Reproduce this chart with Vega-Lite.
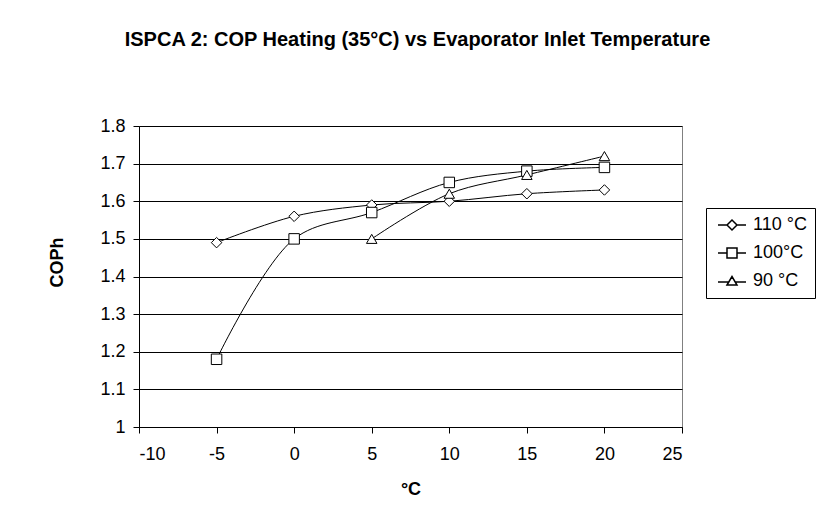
{
  "$schema": "https://vega.github.io/schema/vega-lite/v6.json",
  "width": 543,
  "height": 301,
  "autosize": {"type": "none"},
  "padding": {"left": 139, "top": 126, "right": 144, "bottom": 93},
  "background": "white",
  "title": {
    "text": "ISPCA 2: COP Heating (35°C) vs  Evaporator Inlet Temperature",
    "font": "Liberation Sans",
    "fontSize": 20,
    "fontWeight": "bold",
    "color": "black",
    "anchor": "middle",
    "frame": "group",
    "dx": 7,
    "offset": 67
  },
  "config": {
    "font": "Liberation Sans",
    "view": {"stroke": "#808080", "strokeWidth": 1},
    "axis": {
      "labelFont": "Liberation Sans",
      "labelFontSize": 18,
      "labelColor": "black",
      "titleFont": "Liberation Sans",
      "titleFontSize": 18,
      "titleFontWeight": "bold",
      "titleColor": "black",
      "domainColor": "black",
      "tickColor": "black",
      "gridColor": "black",
      "gridOpacity": 1
    }
  },
  "data": {
    "values": [
      {"series": "110 °C", "t": -5, "cop": 1.49},
      {"series": "110 °C", "t": 0, "cop": 1.56},
      {"series": "110 °C", "t": 5, "cop": 1.59},
      {"series": "110 °C", "t": 10, "cop": 1.60},
      {"series": "110 °C", "t": 15, "cop": 1.62},
      {"series": "110 °C", "t": 20, "cop": 1.63},
      {"series": "100°C", "t": -5, "cop": 1.18},
      {"series": "100°C", "t": 0, "cop": 1.50},
      {"series": "100°C", "t": 5, "cop": 1.57},
      {"series": "100°C", "t": 10, "cop": 1.65},
      {"series": "100°C", "t": 15, "cop": 1.68},
      {"series": "100°C", "t": 20, "cop": 1.69},
      {"series": "90 °C", "t": 5, "cop": 1.50},
      {"series": "90 °C", "t": 10, "cop": 1.62},
      {"series": "90 °C", "t": 15, "cop": 1.67},
      {"series": "90 °C", "t": 20, "cop": 1.72}
    ]
  },
  "encoding": {
    "x": {
      "field": "t",
      "type": "quantitative",
      "scale": {"domain": [-10, 25], "nice": false, "zero": false},
      "axis": {
        "title": "°C",
        "values": [-10, -5, 0, 5, 10, 15, 20, 25],
        "labelExpr": "datum.value < 0 ? '-' + abs(datum.value) : '' + datum.value",
        "grid": false,
        "tickSize": 6,
        "labelPadding": 12,
        "titleY": 62,
        "titleBaseline": "middle"
      }
    },
    "y": {
      "field": "cop",
      "type": "quantitative",
      "scale": {"domain": [1, 1.8], "nice": false, "zero": false},
      "axis": {
        "title": "COPh",
        "values": [1, 1.1, 1.2, 1.3, 1.4, 1.5, 1.6, 1.7, 1.8],
        "format": ".1~f",
        "grid": true,
        "tickSize": 6,
        "labelPadding": 8,
        "titleX": -82,
        "titleY": 136,
        "titleAlign": "center",
        "titleBaseline": "middle"
      }
    }
  },
  "layer": [
    {
      "mark": {"type": "line", "interpolate": "catmull-rom", "color": "black", "strokeWidth": 1},
      "encoding": {"detail": {"field": "series"}}
    },
    {
      "mark": {"type": "point", "filled": false, "color": "black", "fill": "white", "fillOpacity": 1, "strokeWidth": 1, "opacity": 1, "size": 110},
      "encoding": {
        "shape": {
          "field": "series",
          "type": "nominal",
          "scale": {"domain": ["110 °C", "100°C", "90 °C"], "range": ["diamond", "square", "triangle-up"]},
          "legend": null
        }
      }
    },
    {
      "transform": [{"filter": "false"}],
      "mark": {"type": "point", "filled": false, "color": "black", "fill": "white", "fillOpacity": 1, "strokeWidth": 1, "opacity": 1, "size": 100},
      "encoding": {
        "shape": {
          "field": "series",
          "type": "nominal",
          "scale": {
            "domain": ["110 °C", "100°C", "90 °C"],
            "range": [
              "M-2.8,0L-1,0L0,-1L1,0L2.8,0M1,0L0,1L-1,0",
              "M-2.8,0L-1,0M1,0L2.8,0M-1,-1L1,-1L1,1L-1,1Z",
              "M-2.8,0.2L-0.65,0.2M0.65,0.2L2.8,0.2M-1,0.8L0,-0.9L1,0.8Z"
            ]
          },
          "legend": {
            "title": null,
            "orient": "none",
            "legendX": 567,
            "legendY": 82,
            "strokeColor": "black",
            "fillColor": "white",
            "padding": 8,
            "labelFont": "Liberation Sans",
            "labelFontSize": 18,
            "labelColor": "black",
            "symbolSize": 100,
            "symbolOffset": 9,
            "rowPadding": 10,
            "labelOffset": 12
          }
        }
      }
    }
  ],
  "resolve": {"scale": {"shape": "independent"}, "legend": {"shape": "independent"}}
}
